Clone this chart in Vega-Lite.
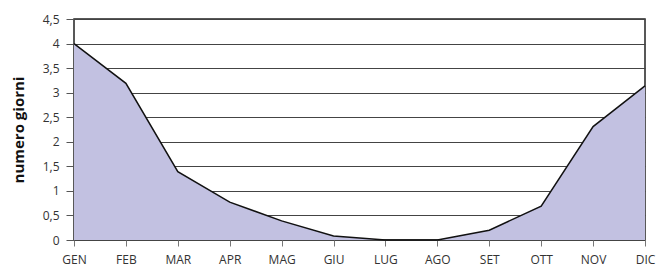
{
  "$schema": "https://vega.github.io/schema/vega-lite/v6.json",
  "autosize": "none",
  "width": 571,
  "height": 221,
  "padding": {"left": 74, "top": 19, "right": 11, "bottom": 34},
  "background": "white",
  "data": {"values": [
    {"mese": "GEN", "giorni": 4.0},
    {"mese": "FEB", "giorni": 3.19},
    {"mese": "MAR", "giorni": 1.39},
    {"mese": "APR", "giorni": 0.77},
    {"mese": "MAG", "giorni": 0.39},
    {"mese": "GIU", "giorni": 0.08},
    {"mese": "LUG", "giorni": 0.0},
    {"mese": "AGO", "giorni": 0.0},
    {"mese": "SET", "giorni": 0.2},
    {"mese": "OTT", "giorni": 0.69},
    {"mese": "NOV", "giorni": 2.31},
    {"mese": "DIC", "giorni": 3.14}
  ]},
  "config": {
    "view": {"stroke": "#222", "strokeWidth": 1.5},
    "font": "Open Sans"
  },
  "encoding": {
    "x": {"field": "mese", "type": "ordinal", "sort": null,
      "scale": {"type": "point", "padding": 0},
      "axis": {"title": null, "labelAngle": 0, "labelFontSize": 12, "labelColor": "#333",
        "labelPadding": 8, "tickColor": "#777", "tickSize": 6, "domain": false, "grid": false}},
    "y": {"field": "giorni", "type": "quantitative",
      "scale": {"domain": [0, 4.5], "nice": false},
      "axis": {"title": "numero giorni", "titleFontSize": 15, "titleFontWeight": "bold", "titleColor": "#111",
        "titlePadding": 16, "values": [0, 0.5, 1, 1.5, 2, 2.5, 3, 3.5, 4, 4.5], "labelOverlap": false,
        "labelExpr": "replace(format(datum.value, ''), '.', ',')",
        "labelFontSize": 12, "labelColor": "#333", "labelPadding": 7,
        "tickColor": "#555", "tickSize": 8, "domain": false,
        "grid": true, "gridColor": "#444", "gridWidth": 1, "gridOpacity": 1}}
  },
  "layer": [
    {"mark": {"type": "area", "color": "#c2c1e1", "opacity": 1}},
    {"mark": {"type": "line", "color": "#111", "strokeWidth": 1.5}}
  ]
}
